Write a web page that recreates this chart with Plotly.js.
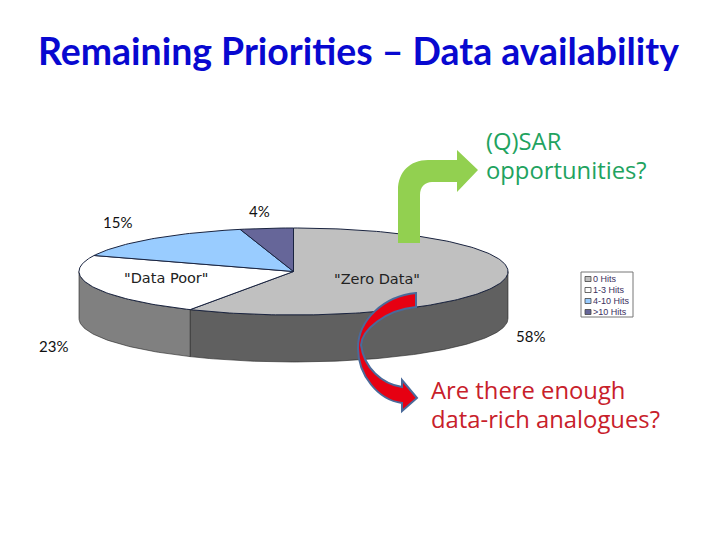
<!DOCTYPE html>
<html><head><meta charset="utf-8">
<script src="https://cdn.plot.ly/plotly-3.0.1.min.js"></script>
<style>html,body{margin:0;padding:0;background:#fff}#c{width:720px;height:540px}</style></head>
<body><div id="c"></div>
<script>
const categories = ['"Zero Data"', '"Data Poor"', '', ''];
const legendLabels = ['0 Hits', '1-3 Hits', '4-10 Hits', '>10 Hits'];
const values = [58, 23, 15, 4];
const percentLabels = ['58%', '23%', '15%', '4%'];
const topColors = ['#c0c0c0', '#ffffff', '#99ccff', '#666699'];
const sideColors = ['#606060', '#808080', '#4d6680', '#333344'];

const cx = 293.5, cy = 271.5, rx = 214.5, ry = 43.5, depth = 47;
const px = a => cx + rx * Math.sin(a);
const py = a => cy - ry * Math.cos(a);
const arc = (a0, a1) => {
  const n = Math.max(2, Math.ceil((a1 - a0) / 0.02)), out = [];
  for (let i = 0; i <= n; i++) out.push(a0 + (a1 - a0) * i / n);
  return out;
};

let traces = [], start = 0;
const bounds = values.map(v => { const a0 = start; start += v / 100 * 2 * Math.PI; return [a0, start]; });

bounds.forEach(([a0, a1], i) => {
  const s = Math.max(a0, Math.PI / 2), e = Math.min(a1, 3 * Math.PI / 2);
  if (e <= s) return;
  const t = arc(s, e);
  const x = t.map(px).concat(t.slice().reverse().map(px));
  const y = t.map(a => py(a) + depth).concat(t.slice().reverse().map(py));
  x.push(x[0]); y.push(y[0]);
  traces.push({type: 'scatter', mode: 'lines', x, y, fill: 'toself', fillcolor: sideColors[i],
    line: {color: '#222', width: 0.6}, hoverinfo: 'skip', showlegend: false});
});
bounds.forEach(([a0, a1], i) => {
  const t = arc(a0, a1);
  const x = [cx].concat(t.map(px), [cx]);
  const y = [cy].concat(t.map(py), [cy]);
  traces.push({type: 'scatter', mode: 'lines', x, y, fill: 'toself', fillcolor: topColors[i],
    line: {color: '#1a2440', width: 1}, name: legendLabels[i], hoverinfo: 'skip', showlegend: false});
});

const legX = 585, legY = [279, 290, 301, 312];
const shapes = [
  {type: 'rect', xref: 'x', yref: 'y', x0: 581, x1: 633, y0: 272, y1: 317, line: {color: '#777', width: 1}, fillcolor: '#fff', layer: 'above'},
  {type: 'path', xref: 'x', yref: 'y', layer: 'above', fillcolor: '#92d050', line: {width: 0},
   path: 'M 398 243 L 398 190 C 398 172 410 160 428 160 L 457 160 L 457 150 L 478 170 L 457 192 L 457 182 L 432 182 C 425 182 420 187 420 195 L 420 243 Z'},
  {type: 'path', xref: 'x', yref: 'y', layer: 'above', fillcolor: '#e60012', line: {color: '#4a6a9a', width: 2},
   path: 'M 416 293 C 384 296 358 320 358 348 C 358 375 378 400 402 403 L 402 411 L 417 398 L 402 380 L 402 387 C 382 384 364 368 361 345 C 362 330 385 310 416 307 Z'}
];
legY.forEach((y, i) => shapes.push({type: 'rect', xref: 'x', yref: 'y', x0: legX, x1: legX + 6, y0: y - 2.5, y1: y + 2.5,
  fillcolor: topColors[i], line: {color: '#444', width: 0.8}, layer: 'above'}));

const ann = (x, y, text, size, color, family, anchor, weight) => ({
  xref: 'x', yref: 'y', x, y, text, showarrow: false, xanchor: anchor || 'left', yanchor: 'middle',
  align: 'left', font: {size, color, family, weight: weight || 400}});

const annotations = [
  ann(358, 50, 'Remaining Priorities – Data availability', 37.4, '#0808d0', 'Lato', 'center', 700),
  ann(530, 336, percentLabels[0], 15, '#111', 'Lato', 'center'),
  ann(53, 346, percentLabels[1], 15, '#111', 'Lato', 'center'),
  ann(117, 222, percentLabels[2], 15, '#111', 'Lato', 'center'),
  ann(259, 211, percentLabels[3], 15, '#111', 'Lato', 'center'),
  ann(377, 279, categories[0], 14.5, '#222', 'DejaVu Sans', 'center'),
  ann(166, 278, categories[1], 14.5, '#222', 'DejaVu Sans', 'center'),
  ann(484, 141, '(Q)SAR', 23.8, '#1fa35f', 'Open Sans'),
  ann(484, 170, 'opportunities?', 23.8, '#1fa35f', 'Open Sans'),
  ann(429, 390, 'Are there enough', 23.8, '#c8202a', 'Open Sans'),
  ann(429, 419, 'data-rich analogues?', 23.8, '#c8202a', 'Open Sans')
];
legendLabels.forEach((t, i) => annotations.push(ann(591, legY[i], t, 9, '#3a3060', 'Liberation Sans')));

Plotly.newPlot('c', traces, {
  width: 720, height: 540, margin: {l: 0, r: 0, t: 0, b: 0},
  paper_bgcolor: '#fff', plot_bgcolor: '#fff', showlegend: false,
  xaxis: {range: [0, 720], visible: false, fixedrange: true},
  yaxis: {range: [540, 0], visible: false, fixedrange: true},
  shapes, annotations
}, {displayModeBar: false, staticPlot: true});
</script></body></html>
